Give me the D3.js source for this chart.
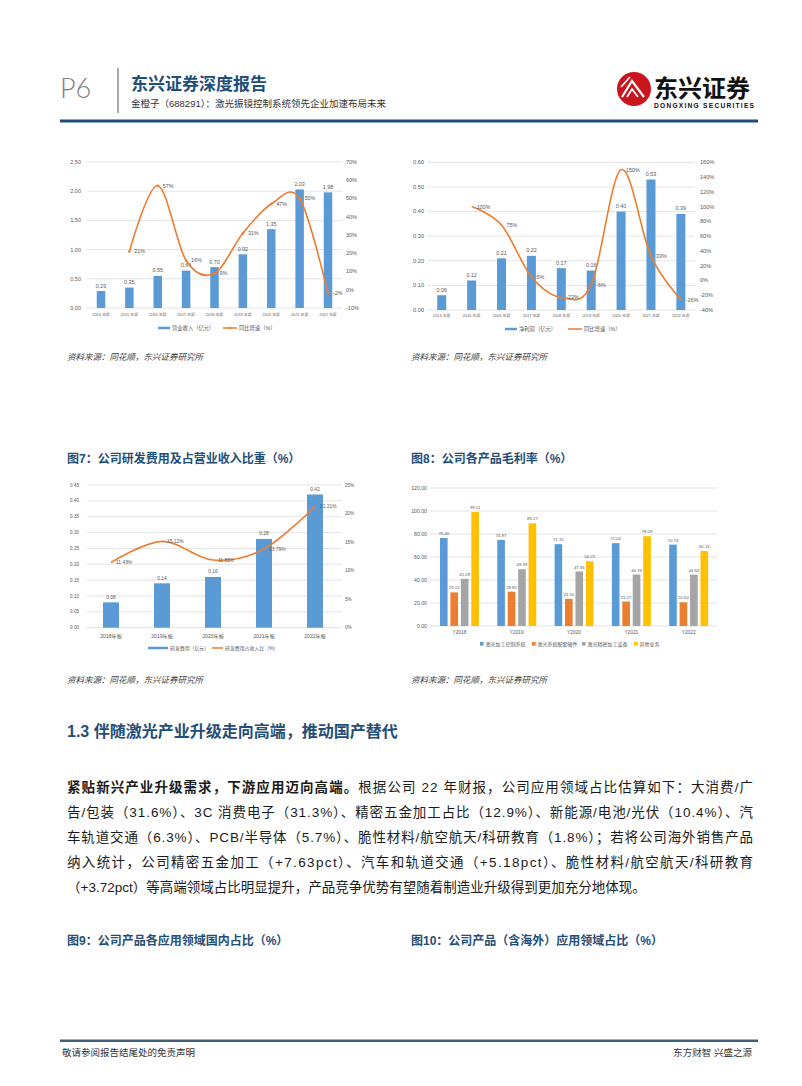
<!DOCTYPE html>
<html><head><meta charset="utf-8">
<script src="https://cdn.jsdelivr.net/npm/d3@7"></script>
<style>
body{margin:0;background:#fff;}
svg{display:block;}
</style></head><body>
<svg id="page" width="802" height="1086"></svg>
<script>
// ---------------- DATA ----------------
const years9 = ["2014 年报","2015 年报","2016 年报","2017 年报","2018 年报","2019 年报","2020 年报","2021 年报","2022 年报"];
const revenue = [0.29,0.35,0.55,0.64,0.70,0.92,1.35,2.03,1.98];
const revenueGrowth = [null,21,57,16,9,31,47,50,-2];
const revenueTicks = [0,0.5,1.0,1.5,2.0,2.5];
const revenueGrowthTicks = [-10,0,10,20,30,40,50,60,70];

const netProfit = [0.06,0.12,0.21,0.22,0.17,0.16,0.40,0.53,0.39];
const profitGrowth = [null,100,75,5,-23,-6,150,33,-26];
const profitTicks = [0,0.1,0.2,0.3,0.4,0.5,0.6];
const profitGrowthTicks = [-40,-20,0,20,40,60,80,100,120,140,160];

const rdYears = ["2018年报","2019年报","2020年报","2021年报","2022年报"];
const rdExpense = [0.08,0.14,0.16,0.28,0.42];
const rdRatio = [11.43,15.12,11.85,13.79,21.21];
const rdTicks = [0,0.05,0.10,0.15,0.20,0.25,0.30,0.35,0.40,0.45];
const rdRatioTicks = [0,5,10,15,20,25];

const marginYears = ["Y2018","Y2019","Y2020","Y2021","Y2022"];
const marginSeries = ["激光加工控制系统","激光系统配套硬件","激光精密加工设备","其他业务"];
const marginControl = [76.46,74.87,71.15,72.02,70.74];
const marginHardware = [29.23,29.85,23.55,21.27,20.60];
const marginEquipment = [41.09,49.39,47.36,44.74,44.63];
const marginOther = [99.11,89.27,56.25,78.09,65.13];
const marginTicks = [0,20,40,60,80,100,120];

// ---------------- STYLE ----------------
const BLUE = "#5b9bd5", ORANGE = "#ed7d31", GRAY = "#a5a5a5", YELLOW = "#ffc000";
const TXT = "#595959", GRID = "#d9d9d9";
const NAVY = "#1f4e79";
const LAT = "'Liberation Sans','Noto Sans CJK SC',sans-serif";
const CJK = "'Liberation Sans','Noto Sans CJK SC',sans-serif";

const page = d3.select("#page");

function txt(g, x, y, s, size, opts = {}) {
  const t = g.append("text").attr("x", x).attr("y", y).text(s)
    .attr("font-size", size).attr("font-family", opts.family || CJK)
    .attr("fill", opts.fill || TXT);
  if (opts.anchor) t.attr("text-anchor", opts.anchor);
  if (opts.weight) t.attr("font-weight", opts.weight);
  if (opts.style) t.attr("font-style", opts.style);
  if (opts.baseline) t.attr("dominant-baseline", opts.baseline);
  return t;
}

// ---------------- HEADER ----------------
txt(page, 60, 98, "P6", 27, {family: "Lato,'Open Sans',sans-serif", fill: "#7f7f7f", weight: 300});
page.append("line").attr("x1", 118).attr("x2", 118).attr("y1", 68).attr("y2", 113)
  .attr("stroke", "#8c8c8c").attr("stroke-width", 1.5);
txt(page, 131, 90, "东兴证券深度报告", 17, {fill: NAVY, weight: "bold"});
txt(page, 131, 107, "金橙子（688291）：激光振镜控制系统领先企业加速布局未来", 9.5, {fill: "#333"});
page.append("rect").attr("x", 60).attr("y", 119.5).attr("width", 698).attr("height", 3).attr("fill", NAVY);

// logo
const logo = page.append("g").attr("transform", "translate(634,89)");
logo.append("circle").attr("r", 17).attr("fill", "#c9151e");
logo.append("path").attr("d", "M-12,8 L-2,-8 L10,8").attr("fill", "none").attr("stroke", "#fff").attr("stroke-width", 2.2);
logo.append("path").attr("d", "M-7,8 L-2,0 L4,8").attr("fill", "none").attr("stroke", "#fff").attr("stroke-width", 1.8);
logo.append("path").attr("d", "M-13,-2 L-4,-12").attr("fill", "none").attr("stroke", "#fff").attr("stroke-width", 1.6);
txt(page, 654, 97, "东兴证券", 24, {fill: "#111", weight: "bold"});
txt(page, 654, 108, "DONGXING SECURITIES", 6.6, {fill: "#111", weight: "bold", family: LAT}).attr("textLength", 100);

// ---------------- COMBO CHART (bar + smoothed line) ----------------
function combo(cfg) {
  const g = page.append("g");
  const x = d3.scaleBand().domain(cfg.cats).range(cfg.xRange).paddingInner(0).paddingOuter(0);
  const yL = d3.scaleLinear().domain(cfg.leftDomain).range([cfg.yBot, cfg.yTop]);
  const yR = d3.scaleLinear().domain(cfg.rightDomain).range([cfg.yBot, cfg.yTop]);
  // gridlines
  g.selectAll(".grid").data(cfg.leftTicks).join("line")
    .attr("x1", cfg.gridX[0]).attr("x2", cfg.gridX[1])
    .attr("y1", d => yL(d)).attr("y2", d => yL(d))
    .attr("stroke", GRID).attr("stroke-width", 0.7);
  // left labels
  g.selectAll(".lt").data(cfg.leftTicks).join("text")
    .attr("x", cfg.leftLabelX).attr("y", d => yL(d)).attr("dy", "0.35em")
    .attr("text-anchor", "end").attr("font-size", cfg.tickSize).attr("font-family", LAT).attr("fill", TXT)
    .text(d => d3.format(cfg.leftFmt)(d));
  // right labels
  g.selectAll(".rt").data(cfg.rightTicks).join("text")
    .attr("x", cfg.rightLabelX).attr("y", d => yR(d)).attr("dy", "0.35em")
    .attr("text-anchor", "start").attr("font-size", cfg.tickSize).attr("font-family", LAT).attr("fill", TXT)
    .text(d => d + "%");
  // bars
  const bw = cfg.barWidth;
  const cx = c => x(c) + x.bandwidth() / 2;
  g.selectAll(".bar").data(cfg.bars).join("rect")
    .attr("x", (d, i) => cx(cfg.cats[i]) - bw / 2).attr("width", bw)
    .attr("y", d => yL(d)).attr("height", d => yL(0) - yL(d)).attr("fill", BLUE);
  g.selectAll(".bl").data(cfg.bars).join("text")
    .attr("x", (d, i) => cx(cfg.cats[i])).attr("y", d => yL(d) - 3.5)
    .attr("text-anchor", "middle").attr("font-size", cfg.labelSize).attr("font-family", LAT).attr("fill", TXT)
    .text(d => d3.format(".2f")(d));
  // line
  const pts = cfg.line.map((v, i) => ({v, c: cfg.cats[i]})).filter(d => d.v != null);
  const line = d3.line().x(d => cx(d.c)).y(d => yR(d.v)).curve(d3.curveCardinal.tension(0));
  g.append("path").attr("d", line(pts)).attr("fill", "none").attr("stroke", ORANGE).attr("stroke-width", 1.6);
  if (cfg.markers) {
    g.selectAll(".mk").data(pts).join("circle")
      .attr("cx", d => cx(d.c)).attr("cy", d => yR(d.v)).attr("r", 1.3).attr("fill", ORANGE);
  }
  g.selectAll(".ll").data(pts).join("text")
    .attr("x", d => cx(d.c) + cfg.lineLabelDx).attr("y", d => yR(d.v)).attr("dy", "0.35em")
    .attr("font-size", cfg.labelSize).attr("font-family", LAT).attr("fill", TXT)
    .text(d => cfg.lineFmt(d.v));
  // category labels
  g.selectAll(".cl").data(cfg.cats).join("text")
    .attr("x", d => cx(d)).attr("y", cfg.catY).attr("dy", "0.35em")
    .attr("text-anchor", "middle").attr("font-size", cfg.catSize).attr("font-family", CJK).attr("fill", TXT)
    .text(d => d);
  // legend
  const L = cfg.legend;
  g.append("line").attr("x1", L.b[0]).attr("x2", L.b[1]).attr("y1", L.y).attr("y2", L.y)
    .attr("stroke", BLUE).attr("stroke-width", 2.5);
  txt(g, L.b[1] + 2, L.y, L.bText, cfg.legendSize, {baseline: "central"});
  g.append("line").attr("x1", L.o[0]).attr("x2", L.o[1]).attr("y1", L.y).attr("y2", L.y)
    .attr("stroke", ORANGE).attr("stroke-width", 1.5);
  if (cfg.markers) g.append("circle").attr("cx", (L.o[0] + L.o[1]) / 2).attr("cy", L.y).attr("r", 1.3).attr("fill", ORANGE);
  txt(g, L.o[1] + 2, L.y, L.oText, cfg.legendSize, {baseline: "central"});
}

// Chart: revenue
combo({
  cats: years9, bars: revenue, line: revenueGrowth,
  xRange: [86.8, 342.2], yBot: 308, yTop: 162,
  leftDomain: [0, 2.5], rightDomain: [-10, 70],
  leftTicks: revenueTicks, rightTicks: revenueGrowthTicks, leftFmt: ".2f",
  gridX: [86.8, 342.2], leftLabelX: 81, rightLabelX: 346,
  barWidth: 8.5, tickSize: 5.5, labelSize: 5.4, catSize: 3.9, legendSize: 5.3,
  lineLabelDx: 5, lineFmt: v => v + "%", markers: true, catY: 314.5,
  legend: {y: 328, b: [158, 170], bText: "营业收入（亿元）", o: [223, 237], oText: "同比增速（%）"}
});

// Chart: net profit
combo({
  cats: years9, bars: netProfit, line: profitGrowth,
  xRange: [426.8, 695.8], yBot: 310, yTop: 162.3,
  leftDomain: [0, 0.6], rightDomain: [-40, 160],
  leftTicks: profitTicks, rightTicks: profitGrowthTicks, leftFmt: ".2f",
  gridX: [428, 695], leftLabelX: 424, rightLabelX: 700,
  barWidth: 9, tickSize: 5.6, labelSize: 5.4, catSize: 3.9, legendSize: 5.3,
  lineLabelDx: 5, lineFmt: v => v + "%", markers: false, catY: 316,
  legend: {y: 329, b: [505, 517], bText: "净利润（亿元）", o: [568, 582], oText: "同比增速（%）"}
});

// Chart: R&D
combo({
  cats: rdYears, bars: rdExpense, line: rdRatio,
  xRange: [85.5, 340.5], yBot: 627.7, yTop: 485,
  leftDomain: [0, 0.45], rightDomain: [0, 25],
  leftTicks: rdTicks, rightTicks: rdRatioTicks, leftFmt: ".2f",
  gridX: [87, 342], leftLabelX: 79, rightLabelX: 345,
  barWidth: 16, tickSize: 4.6, labelSize: 4.9, catSize: 5.1, legendSize: 4.9,
  lineLabelDx: 5, lineFmt: v => d3.format(".2f")(v) + "%", markers: false, catY: 636,
  legend: {y: 648, b: [148, 168], bText: "研发费用（亿元）", o: [212, 223], oText: "研发费用占收入比（%）"}
});

// ---------------- GROSS MARGIN CHART ----------------
(function () {
  const g = page.append("g");
  const seriesVals = [marginControl, marginHardware, marginEquipment, marginOther];
  const colors = [BLUE, ORANGE, GRAY, YELLOW];
  const x0 = d3.scaleBand().domain(marginYears).range([430.8, 717.3]).paddingInner(0.32).paddingOuter(0.16);
  const x1 = d3.scaleBand().domain(marginSeries).range([0, x0.bandwidth()]).paddingInner(0.27);
  const y = d3.scaleLinear().domain([0, 120]).range([626, 488]);
  g.selectAll(".grid").data(marginTicks).join("line")
    .attr("x1", 430).attr("x2", 717).attr("y1", d => y(d)).attr("y2", d => y(d))
    .attr("stroke", GRID).attr("stroke-width", 0.7);
  g.selectAll(".lt").data(marginTicks).join("text")
    .attr("x", 427).attr("y", d => y(d)).attr("dy", "0.35em").attr("text-anchor", "end")
    .attr("font-size", 5.2).attr("font-family", LAT).attr("fill", TXT).text(d => d3.format(".2f")(d));
  seriesVals.forEach((vals, si) => {
    const s = marginSeries[si];
    g.selectAll(".b" + si).data(vals).join("rect")
      .attr("x", (d, i) => x0(marginYears[i]) + x1(s)).attr("width", x1.bandwidth())
      .attr("y", d => y(d)).attr("height", d => y(0) - y(d)).attr("fill", colors[si]);
    g.selectAll(".l" + si).data(vals).join("text")
      .attr("x", (d, i) => x0(marginYears[i]) + x1(s) + x1.bandwidth() / 2).attr("y", d => y(d) - 3)
      .attr("text-anchor", "middle").attr("font-size", 4.3).attr("font-family", LAT).attr("fill", TXT)
      .text(d => d3.format(".2f")(d));
  });
  g.selectAll(".cl").data(marginYears).join("text")
    .attr("x", d => x0(d) + x0.bandwidth() / 2).attr("y", 632).attr("dy", "0.35em")
    .attr("text-anchor", "middle").attr("font-size", 4.8).attr("font-family", LAT).attr("fill", TXT).text(d => d);
  const legX = [480, 532, 582, 634];
  marginSeries.forEach((s, i) => {
    g.append("rect").attr("x", legX[i]).attr("y", 642).attr("width", 3.6).attr("height", 3.6).attr("fill", colors[i]);
    txt(g, legX[i] + 5.5, 644, s, 5, {baseline: "central"});
  });
})();

// ---------------- TEXT BLOCKS ----------------
const srcText = "资料来源：同花顺，东兴证券研究所";
txt(page, 67, 360, srcText, 8.5, {fill: "#404040", style: "italic"});
txt(page, 411, 360, srcText, 8.5, {fill: "#404040", style: "italic"});
txt(page, 67, 683, srcText, 8.5, {fill: "#404040", style: "italic"});
txt(page, 411, 683, srcText, 8.5, {fill: "#404040", style: "italic"});

txt(page, 67, 463, "图7：公司研发费用及占营业收入比重（%）", 12, {fill: NAVY, weight: "bold"});
txt(page, 411, 463, "图8：公司各产品毛利率（%）", 12, {fill: NAVY, weight: "bold"});

txt(page, 67, 737, "1.3 伴随激光产业升级走向高端，推动国产替代", 16, {fill: NAVY, weight: "bold"});

const paraLines = [
  ["紧贴新兴产业升级需求，下游应用迈向高端。", "根据公司 22 年财报，公司应用领域占比估算如下：大消费/广"],
  ["", "告/包装（31.6%）、3C 消费电子（31.3%）、精密五金加工占比（12.9%）、新能源/电池/光伏（10.4%）、汽"],
  ["", "车轨道交通（6.3%）、PCB/半导体（5.7%）、脆性材料/航空航天/科研教育（1.8%）；若将公司海外销售产品"],
  ["", "纳入统计，公司精密五金加工（+7.63pct）、汽车和轨道交通（+5.18pct）、脆性材料/航空航天/科研教育"],
  ["", "（+3.72pct）等高端领域占比明显提升，产品竞争优势有望随着制造业升级得到更加充分地体现。"]
];
paraLines.forEach((ln, i) => {
  const t = page.append("text").attr("x", 67).attr("y", 792 + i * 25)
    .attr("font-size", 13.5).attr("font-family", CJK).attr("fill", "#1a1a1a");
  if (ln[0]) t.append("tspan").attr("font-weight", "bold").text(ln[0]);
  t.append("tspan").text(ln[1]);
  if (i < paraLines.length - 1) t.attr("textLength", 686).attr("lengthAdjust", "spacing");
});

txt(page, 67, 945, "图9：公司产品各应用领域国内占比（%）", 12, {fill: NAVY, weight: "bold"});
txt(page, 411, 945, "图10：公司产品（含海外）应用领域占比（%）", 12, {fill: NAVY, weight: "bold"});

// ---------------- FOOTER ----------------
page.append("rect").attr("x", 60).attr("y", 1039.5).attr("width", 698).attr("height", 2.5).attr("fill", "#3f5f7a");
txt(page, 62, 1056, "敬请参阅报告结尾处的免责声明", 9.5, {fill: "#333"});
txt(page, 752, 1056, "东方财智 兴盛之源", 9.5, {fill: "#333", anchor: "end"});
</script>
</body></html>
